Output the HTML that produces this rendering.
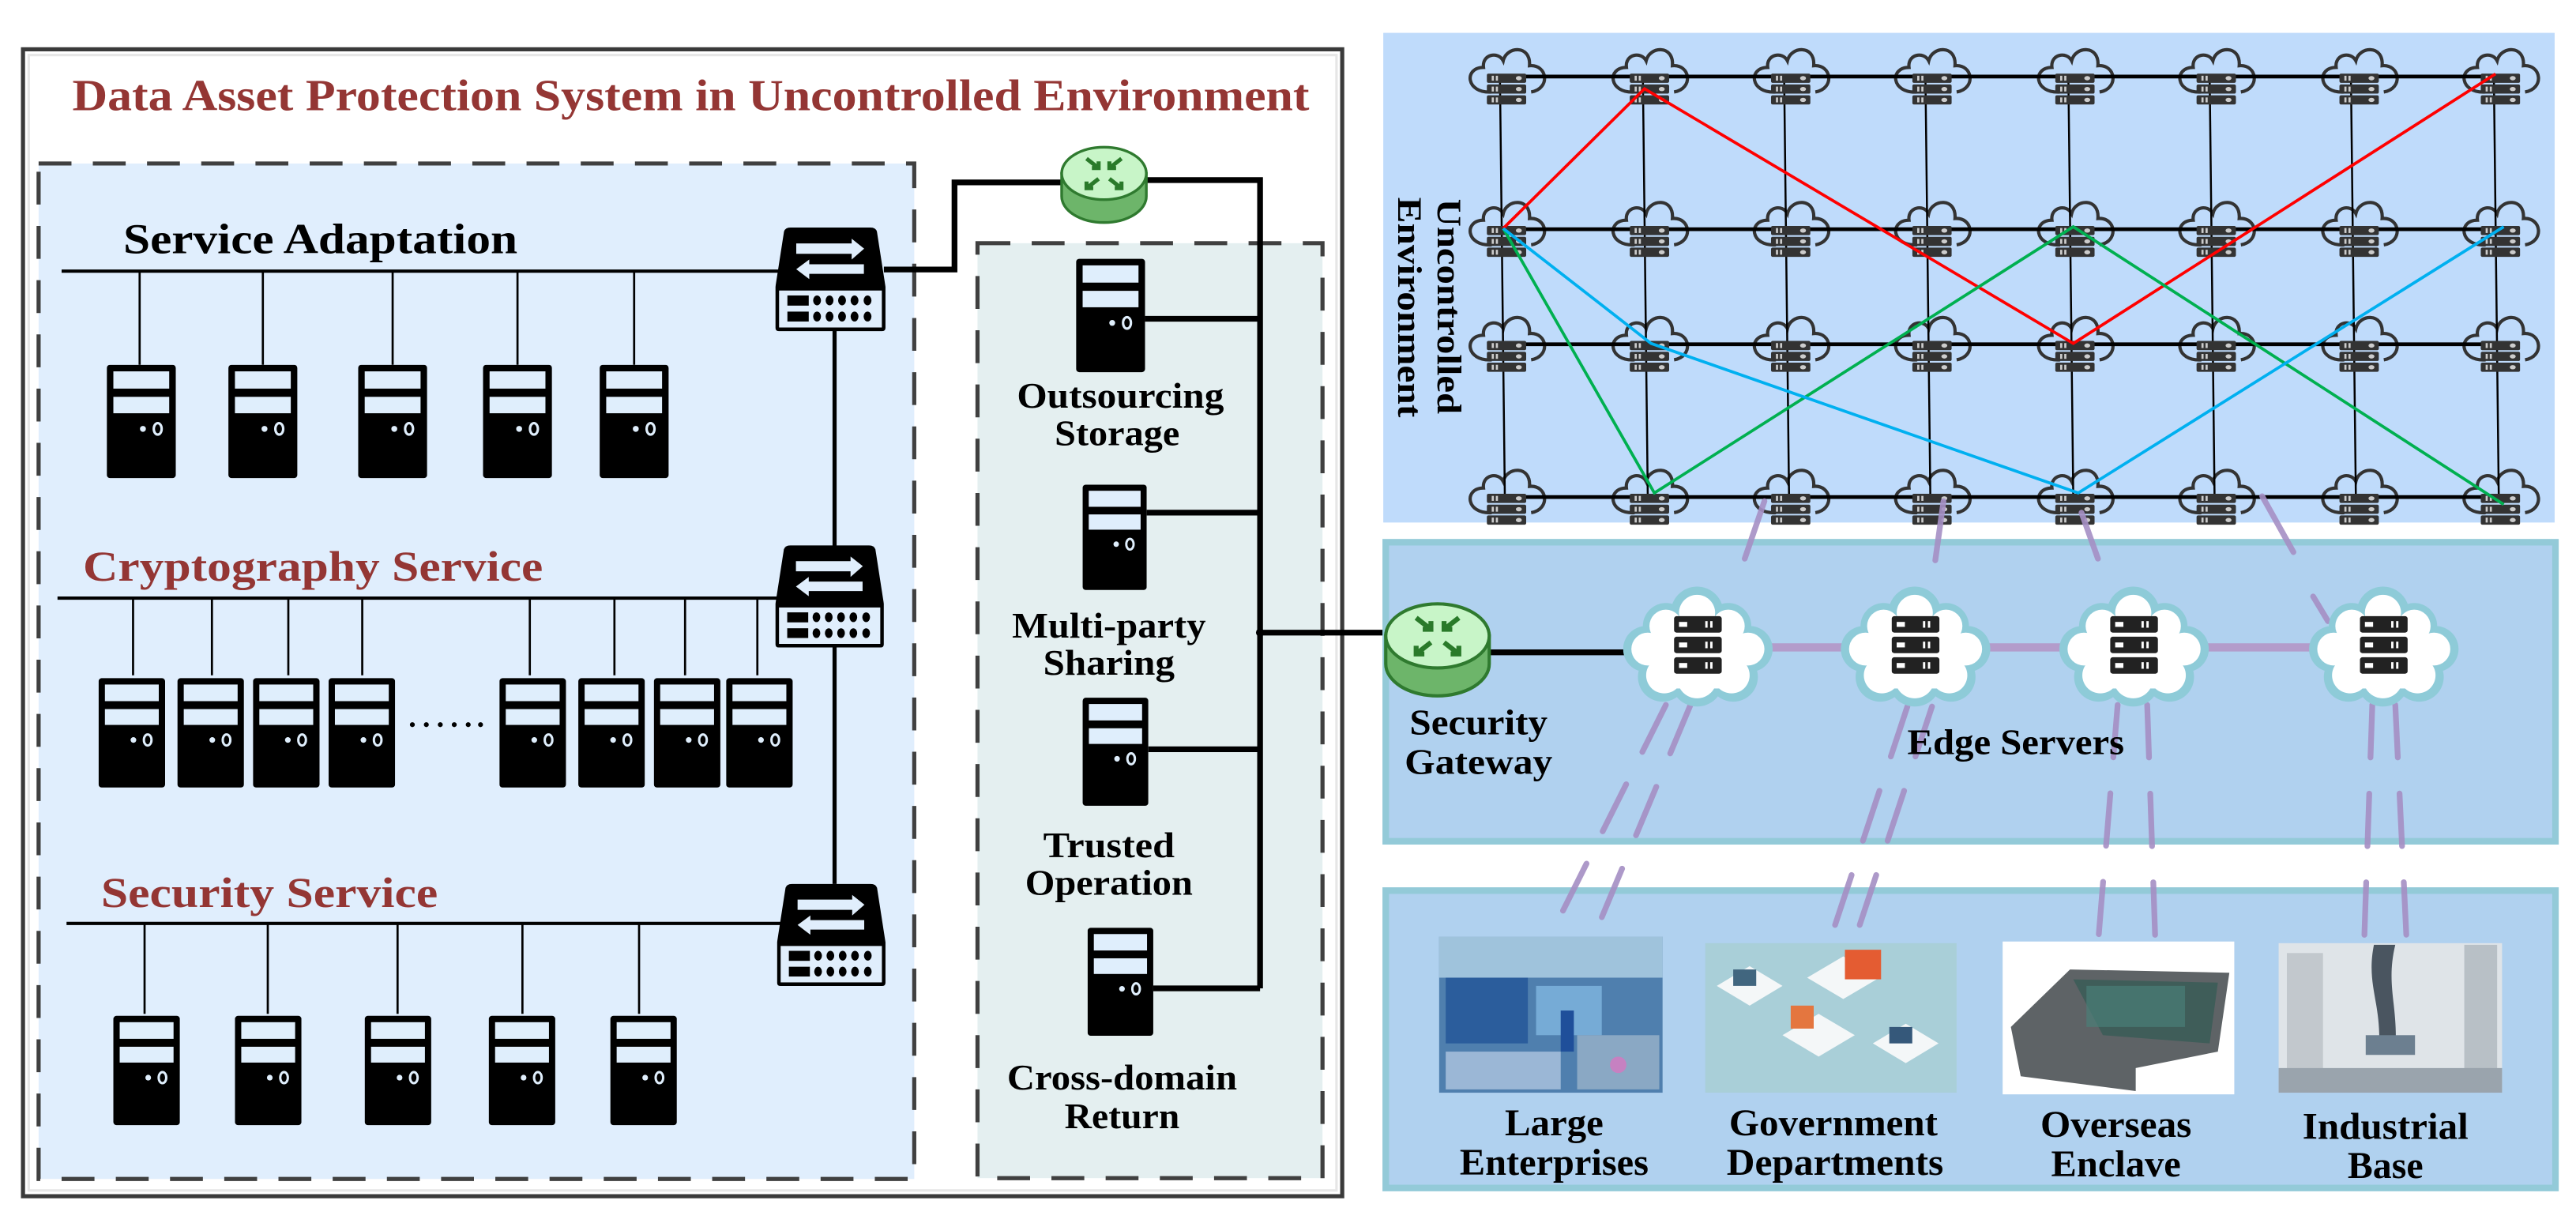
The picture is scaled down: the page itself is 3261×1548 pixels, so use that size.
<!DOCTYPE html>
<html><head><meta charset="utf-8"><style>html,body{margin:0;padding:0;background:#fff}svg{display:block}text{font-family:"Liberation Serif",serif;font-weight:bold}</style></head><body>
<svg width="3261" height="1548" viewBox="0 0 1568 744.3" preserveAspectRatio="none" xmlns="http://www.w3.org/2000/svg">
<defs>
<symbol id="srv" viewBox="0 0 42 69"><rect x="0" y="0" width="42" height="69" rx="2" fill="#000"/><rect x="4" y="4" width="34" height="10.5" fill="#dfeefc"/><rect x="4" y="19.5" width="34" height="10" fill="#dfeefc"/><circle cx="22" cy="39" r="1.8" fill="#dfeefc"/><ellipse cx="31" cy="39" rx="2.4" ry="3.5" fill="none" stroke="#dfeefc" stroke-width="1.5"/></symbol>
<symbol id="sw" viewBox="0 0 423 398"><path d="M58,0 H365 Q385,0 390,15 L423,228 V385 Q423,398 410,398 H13 Q0,398 0,385 V228 L33,15 Q38,0 58,0 Z" fill="#000"/><rect x="14" y="242" width="395" height="142" fill="#e0eefc"/><rect x="46" y="261" width="82" height="39" fill="#000"/><rect x="46" y="323" width="82" height="38" fill="#000"/><g fill="#000"><ellipse cx="160" cy="280" rx="15" ry="19"/><ellipse cx="208" cy="280" rx="15" ry="19"/><ellipse cx="256" cy="280" rx="15" ry="19"/><ellipse cx="304" cy="280" rx="15" ry="19"/><ellipse cx="354" cy="280" rx="15" ry="19"/><ellipse cx="160" cy="342" rx="15" ry="19"/><ellipse cx="208" cy="342" rx="15" ry="19"/><ellipse cx="256" cy="342" rx="15" ry="19"/><ellipse cx="304" cy="342" rx="15" ry="19"/><ellipse cx="354" cy="342" rx="15" ry="19"/></g><path d="M80,61 H293 V43 L341,81 L293,123 V101 H80 Z" fill="#e0eefc"/><path d="M340,141 H130 V123 L80,160 L130,198 V178 H340 Z" fill="#e0eefc"/></symbol>
<symbol id="stk" viewBox="0 0 24 19"><g fill="#333"><rect x="0" y="0" width="24" height="5.6" rx="1"/><rect x="0" y="6.6" width="24" height="5.6" rx="1"/><rect x="0" y="13.2" width="24" height="5.6" rx="1"/></g><g fill="#ccc"><rect x="3" y="1.3" width="1.3" height="3"/><rect x="5.5" y="1.3" width="1.3" height="3"/><rect x="3" y="7.9" width="1.3" height="3"/><rect x="5.5" y="7.9" width="1.3" height="3"/><rect x="3" y="14.5" width="1.3" height="3"/><rect x="5.5" y="14.5" width="1.3" height="3"/><ellipse cx="19.5" cy="2.8" rx="1.8" ry="1.3"/><ellipse cx="19.5" cy="9.4" rx="1.8" ry="1.3"/><ellipse cx="19.5" cy="16" rx="1.8" ry="1.3"/></g></symbol>
<symbol id="gcl" viewBox="-26 -19 52 30"><g fill="none" stroke="#333" stroke-width="2"><path d="M-10,9 C-26,10 -27,-6 -15,-6 C-16,-14 -6,-16 -3,-10 C-1,-19 14,-20 13,-7 C24,-8 26,7 14,9"/></g></symbol>
<symbol id="ecl" viewBox="0 0 91 73"><g fill="#8ecbd8"><circle cx="45" cy="16" r="16"/><circle cx="26" cy="24" r="14"/><circle cx="64" cy="24" r="14"/><circle cx="14" cy="38" r="14"/><circle cx="77" cy="38" r="14"/><circle cx="24" cy="55" r="15"/><circle cx="67" cy="55" r="15"/><circle cx="45" cy="57" r="16"/><rect x="18" y="18" width="55" height="45"/></g><g fill="#fff"><circle cx="45" cy="16" r="11"/><circle cx="26" cy="24" r="10"/><circle cx="64" cy="24" r="10"/><circle cx="15" cy="38" r="10"/><circle cx="76" cy="38" r="10"/><circle cx="25" cy="54" r="11"/><circle cx="66" cy="54" r="11"/><circle cx="45" cy="56" r="12"/><rect x="20" y="20" width="51" height="42"/></g><g fill="#222"><rect x="31" y="18" width="29" height="10" rx="1.5"/><rect x="31" y="30.5" width="29" height="10" rx="1.5"/><rect x="31" y="43" width="29" height="10" rx="1.5"/></g><g fill="#fff"><rect x="34" y="21.5" width="5" height="3"/><rect x="34" y="34" width="5" height="3"/><rect x="34" y="46.5" width="5" height="3"/><rect x="50" y="21" width="1.4" height="4"/><rect x="53" y="21" width="1.4" height="4"/><rect x="50" y="33.5" width="1.4" height="4"/><rect x="53" y="33.5" width="1.4" height="4"/><rect x="50" y="46" width="1.4" height="4"/><rect x="53" y="46" width="1.4" height="4"/></g></symbol>
<symbol id="rtr" viewBox="0 0 66 59"><path d="M1.5,21 V38 A31.5,19.5 0 0 0 64.5,38 V21 Z" fill="#6db56a" stroke="#2f7a2f" stroke-width="2"/><ellipse cx="33" cy="21" rx="31.5" ry="19.5" fill="#c8f5c8" stroke="#2f7a2f" stroke-width="2"/><g stroke="#2a7a2a" stroke-width="3" fill="none"><path d="M20,10 L29,17 M24,17 H29 V12"/><path d="M46,10 L37,17 M37,12 V17 H42"/><path d="M29,25 L20,32 M20,27 V32 H25"/><path d="M37,25 L46,32 M41,32 H46 V27"/></g></symbol>
</defs>

<!-- outer box -->
<rect x="14" y="30" width="803" height="698" fill="#fff" stroke="#3a3a3a" stroke-width="2.5"/>
<rect x="17.5" y="33.5" width="796" height="691" fill="none" stroke="#e6e6e6" stroke-width="1.5"/>
<text x="44" y="67" font-size="27" fill="#943634" textLength="753" lengthAdjust="spacingAndGlyphs">Data Asset Protection System in Uncontrolled Environment</text>

<!-- left dashed box -->
<rect x="23.5" y="99.5" width="533" height="618" fill="#e0eefd" stroke="#404040" stroke-width="2.5" stroke-dasharray="20 13"/>
<!-- right dashed box -->
<rect x="595" y="148" width="210" height="569" fill="#e4eff0" stroke="#404040" stroke-width="2.5" stroke-dasharray="20 13"/>

<!-- service adaptation -->
<text x="75" y="154" font-size="26" fill="#000" textLength="240" lengthAdjust="spacingAndGlyphs">Service Adaptation</text>
<line x1="37.5" y1="165" x2="478" y2="165" stroke="#000" stroke-width="2"/>
<g stroke="#000" stroke-width="1.3">
<line x1="85" y1="165" x2="85" y2="222"/><line x1="160" y1="165" x2="160" y2="222"/><line x1="239" y1="165" x2="239" y2="222"/><line x1="315" y1="165" x2="315" y2="222"/><line x1="386" y1="165" x2="386" y2="222"/>
</g>
<use href="#srv" x="65" y="222" width="42" height="69"/><use href="#srv" x="139" y="222" width="42" height="69"/><use href="#srv" x="218" y="222" width="42" height="69"/><use href="#srv" x="294" y="222" width="42" height="69"/><use href="#srv" x="365" y="222" width="42" height="69"/>

<!-- cryptography -->
<text x="50.5" y="353.5" font-size="26" fill="#943634" textLength="280" lengthAdjust="spacingAndGlyphs">Cryptography Service</text>
<line x1="35" y1="364" x2="478" y2="364" stroke="#000" stroke-width="2"/>
<g stroke="#000" stroke-width="1.3">
<line x1="81" y1="364" x2="81" y2="411"/><line x1="129" y1="364" x2="129" y2="411"/><line x1="175.5" y1="364" x2="175.5" y2="411"/><line x1="220.5" y1="364" x2="220.5" y2="411"/><line x1="322.5" y1="364" x2="322.5" y2="411"/><line x1="374" y1="364" x2="374" y2="411"/><line x1="417" y1="364" x2="417" y2="411"/><line x1="461" y1="364" x2="461" y2="411"/>
</g>
<use href="#srv" x="60" y="411" width="40.5" height="70"/><use href="#srv" x="108" y="411" width="40.5" height="70"/><use href="#srv" x="154" y="411" width="40.5" height="70"/><use href="#srv" x="200" y="411" width="40.5" height="70"/><use href="#srv" x="304" y="411" width="40.5" height="70"/><use href="#srv" x="352" y="411" width="40.5" height="70"/><use href="#srv" x="398" y="411" width="40.5" height="70"/><use href="#srv" x="442" y="411" width="40.5" height="70"/>
<g fill="#000"><circle cx="251" cy="441" r="1.5"/><circle cx="259.5" cy="441" r="1.5"/><circle cx="268" cy="441" r="1.5"/><circle cx="276.5" cy="441" r="1.5"/><circle cx="285" cy="441" r="1.5"/><circle cx="292.5" cy="441" r="1.5"/></g>

<!-- security -->
<text x="61.5" y="552" font-size="26" fill="#943634" textLength="205" lengthAdjust="spacingAndGlyphs">Security Service</text>
<line x1="40.5" y1="562" x2="480" y2="562" stroke="#000" stroke-width="2"/>
<g stroke="#000" stroke-width="1.3">
<line x1="88" y1="562" x2="88" y2="617"/><line x1="163" y1="562" x2="163" y2="617"/><line x1="242" y1="562" x2="242" y2="617"/><line x1="318" y1="562" x2="318" y2="617"/><line x1="389" y1="562" x2="389" y2="617"/>
</g>
<use href="#srv" x="69" y="617" width="40.5" height="69"/><use href="#srv" x="143" y="617" width="40.5" height="69"/><use href="#srv" x="222" y="617" width="40.5" height="69"/><use href="#srv" x="297.5" y="617" width="40.5" height="69"/><use href="#srv" x="371.5" y="617" width="40.5" height="69"/>

<!-- switch vertical -->
<line x1="508" y1="200" x2="508" y2="538" stroke="#000" stroke-width="2.5"/>
<use href="#sw" x="472" y="138" width="67" height="64"/>
<use href="#sw" x="472" y="331" width="66" height="64"/>
<use href="#sw" x="473" y="537" width="66" height="64"/>

<!-- thick connectors -->
<g stroke="#000" stroke-width="3.5" fill="none">
<polyline points="538,164 581,164 581,111 650,111"/>
<polyline points="695,109.6 767,109.6 767,601.5"/>
<line x1="697" y1="194" x2="767" y2="194"/><line x1="698" y1="312" x2="767" y2="312"/><line x1="699" y1="456" x2="767" y2="456"/><line x1="702" y1="601.5" x2="767" y2="601.5"/>
<line x1="767" y1="385" x2="845" y2="385"/>
</g>
<circle cx="767" cy="385" r="2.5" fill="#000"/>
<use href="#rtr" x="645" y="88" width="54" height="49"/>

<use href="#srv" x="655" y="157" width="42" height="70"/>
<use href="#srv" x="659" y="292" width="39" height="70"/>
<use href="#srv" x="659" y="422" width="40" height="71"/>
<use href="#srv" x="662" y="562" width="40" height="71"/>
<g font-size="22" text-anchor="middle" fill="#000">
<text x="682" y="248" textLength="126" lengthAdjust="spacingAndGlyphs">Outsourcing</text>
<text x="680" y="271" textLength="76" lengthAdjust="spacingAndGlyphs">Storage</text>
<text x="675" y="388" textLength="118" lengthAdjust="spacingAndGlyphs">Multi-party</text>
<text x="675" y="410.6" textLength="80" lengthAdjust="spacingAndGlyphs">Sharing</text>
<text x="675" y="521.6" textLength="80" lengthAdjust="spacingAndGlyphs">Trusted</text>
<text x="675" y="544.6" textLength="102" lengthAdjust="spacingAndGlyphs">Operation</text>
<text x="683" y="663" textLength="140" lengthAdjust="spacingAndGlyphs">Cross-domain</text>
<text x="683" y="686.6" textLength="70" lengthAdjust="spacingAndGlyphs">Return</text>
</g>

<!-- top panel -->
<rect x="842" y="20" width="713" height="298" fill="#bfdbfb"/>
<g id="clouds">
<use href="#gcl" x="892" y="28" width="52" height="30"/><use href="#gcl" x="979" y="28" width="52" height="30"/><use href="#gcl" x="1065" y="28" width="52" height="30"/><use href="#gcl" x="1151" y="28" width="52" height="30"/><use href="#gcl" x="1238" y="28" width="52" height="30"/><use href="#gcl" x="1324" y="28" width="52" height="30"/><use href="#gcl" x="1411" y="28" width="52" height="30"/><use href="#gcl" x="1497" y="28" width="52" height="30"/>
<use href="#gcl" x="892" y="121" width="52" height="30"/><use href="#gcl" x="979" y="121" width="52" height="30"/><use href="#gcl" x="1065" y="121" width="52" height="30"/><use href="#gcl" x="1151" y="121" width="52" height="30"/><use href="#gcl" x="1238" y="121" width="52" height="30"/><use href="#gcl" x="1324" y="121" width="52" height="30"/><use href="#gcl" x="1411" y="121" width="52" height="30"/><use href="#gcl" x="1497" y="121" width="52" height="30"/>
<use href="#gcl" x="892" y="191" width="52" height="30"/><use href="#gcl" x="979" y="191" width="52" height="30"/><use href="#gcl" x="1065" y="191" width="52" height="30"/><use href="#gcl" x="1151" y="191" width="52" height="30"/><use href="#gcl" x="1238" y="191" width="52" height="30"/><use href="#gcl" x="1324" y="191" width="52" height="30"/><use href="#gcl" x="1411" y="191" width="52" height="30"/><use href="#gcl" x="1497" y="191" width="52" height="30"/>
<use href="#gcl" x="892" y="284" width="52" height="30"/><use href="#gcl" x="979" y="284" width="52" height="30"/><use href="#gcl" x="1065" y="284" width="52" height="30"/><use href="#gcl" x="1151" y="284" width="52" height="30"/><use href="#gcl" x="1238" y="284" width="52" height="30"/><use href="#gcl" x="1324" y="284" width="52" height="30"/><use href="#gcl" x="1411" y="284" width="52" height="30"/><use href="#gcl" x="1497" y="284" width="52" height="30"/>
</g>
<g stroke="#000" stroke-width="2.3">
<line x1="913" y1="46.6" x2="1526" y2="46.6"/><line x1="913" y1="139.5" x2="1526" y2="139.5"/><line x1="913" y1="209.5" x2="1526" y2="209.5"/><line x1="913" y1="302.5" x2="1526" y2="302.5"/>
</g>
<g stroke="#000" stroke-width="1.2">
<line x1="913" y1="46" x2="916" y2="303"/><line x1="1000" y1="46" x2="1003" y2="303"/><line x1="1086" y1="46" x2="1089" y2="303"/><line x1="1172" y1="46" x2="1175" y2="303"/><line x1="1259" y1="46" x2="1262" y2="303"/><line x1="1345" y1="46" x2="1348" y2="303"/><line x1="1431" y1="46" x2="1434" y2="303"/><line x1="1518" y1="46" x2="1521" y2="303"/>
</g>
<g>
<use href="#stk" x="905" y="44.8" width="24" height="19"/><use href="#stk" x="992" y="44.8" width="24" height="19"/><use href="#stk" x="1078" y="44.8" width="24" height="19"/><use href="#stk" x="1164" y="44.8" width="24" height="19"/><use href="#stk" x="1251" y="44.8" width="24" height="19"/><use href="#stk" x="1337" y="44.8" width="24" height="19"/><use href="#stk" x="1424" y="44.8" width="24" height="19"/><use href="#stk" x="1510" y="44.8" width="24" height="19"/>
<use href="#stk" x="905" y="137.5" width="24" height="19"/><use href="#stk" x="992" y="137.5" width="24" height="19"/><use href="#stk" x="1078" y="137.5" width="24" height="19"/><use href="#stk" x="1164" y="137.5" width="24" height="19"/><use href="#stk" x="1251" y="137.5" width="24" height="19"/><use href="#stk" x="1337" y="137.5" width="24" height="19"/><use href="#stk" x="1424" y="137.5" width="24" height="19"/><use href="#stk" x="1510" y="137.5" width="24" height="19"/>
<use href="#stk" x="905" y="207.5" width="24" height="19"/><use href="#stk" x="992" y="207.5" width="24" height="19"/><use href="#stk" x="1078" y="207.5" width="24" height="19"/><use href="#stk" x="1164" y="207.5" width="24" height="19"/><use href="#stk" x="1251" y="207.5" width="24" height="19"/><use href="#stk" x="1337" y="207.5" width="24" height="19"/><use href="#stk" x="1424" y="207.5" width="24" height="19"/><use href="#stk" x="1510" y="207.5" width="24" height="19"/>
<use href="#stk" x="905" y="300.5" width="24" height="19"/><use href="#stk" x="992" y="300.5" width="24" height="19"/><use href="#stk" x="1078" y="300.5" width="24" height="19"/><use href="#stk" x="1164" y="300.5" width="24" height="19"/><use href="#stk" x="1251" y="300.5" width="24" height="19"/><use href="#stk" x="1337" y="300.5" width="24" height="19"/><use href="#stk" x="1424" y="300.5" width="24" height="19"/><use href="#stk" x="1510" y="300.5" width="24" height="19"/>
</g>
<g fill="none" stroke-width="1.8">
<polyline points="915,139 1001,54 1262,209 1519,45" stroke="#ff0000"/>
<polyline points="915,139 1007,300 1262,138 1524,307" stroke="#00b050"/>
<polyline points="915,139 1005,209 1265,300 1524,138" stroke="#00b0f0"/>
</g>
<text transform="translate(875,121) rotate(90)" font-size="21" fill="#000" textLength="131" lengthAdjust="spacingAndGlyphs">Uncontrolled</text>
<text transform="translate(851,120) rotate(90)" font-size="21" fill="#000" textLength="134" lengthAdjust="spacingAndGlyphs">Environment</text>

<!-- middle & bottom panels -->
<rect x="843.5" y="330" width="712" height="182" fill="#b0d1ef" stroke="#93cad8" stroke-width="4"/>
<rect x="843.5" y="542" width="712" height="181" fill="#b0d1ef" stroke="#93cad8" stroke-width="4"/>

<!-- purple links -->
<g stroke="#a58fc4" stroke-width="3.5" stroke-linecap="round" fill="none" opacity="0.9">
<line x1="1074" y1="305" x2="1062" y2="340"/><line x1="1183" y1="305" x2="1178" y2="341"/><line x1="1267" y1="312" x2="1277" y2="340"/><line x1="1377" y1="302" x2="1396" y2="336"/><line x1="1408" y1="363" x2="1417" y2="378"/>
<g stroke-dasharray="32 22">
<line x1="1014" y1="429" x2="941" y2="575"/><line x1="1029" y1="429" x2="968" y2="575"/>
<line x1="1161" y1="430" x2="1113" y2="575"/><line x1="1176" y1="430" x2="1128" y2="575"/>
<line x1="1289" y1="429" x2="1277" y2="575"/><line x1="1307" y1="429" x2="1312" y2="575"/>
<line x1="1444" y1="429" x2="1439" y2="575"/><line x1="1458" y1="429" x2="1465" y2="575"/>
</g>
</g>
<g stroke="#b39ccb" stroke-width="5"><line x1="1075" y1="394" x2="1124" y2="394"/><line x1="1208" y1="394" x2="1256" y2="394"/><line x1="1342" y1="394" x2="1408" y2="394"/></g>
<line x1="905" y1="397" x2="992" y2="397" stroke="#000" stroke-width="3.5"/>
<use href="#ecl" x="988" y="357" width="91" height="73"/>
<use href="#ecl" x="1120" y="357" width="92" height="73"/>
<use href="#ecl" x="1252" y="357" width="94" height="73"/>
<use href="#ecl" x="1404" y="357" width="94" height="73"/>
<use href="#rtr" x="842" y="366" width="66" height="59"/>
<g font-size="22" text-anchor="middle" fill="#000">
<text x="900" y="447" textLength="84" lengthAdjust="spacingAndGlyphs">Security</text>
<text x="900" y="471" textLength="90" lengthAdjust="spacingAndGlyphs">Gateway</text>
<text x="1227" y="459" textLength="132" lengthAdjust="spacingAndGlyphs">Edge Servers</text>
</g>

<!-- images -->
<g>
<rect x="876" y="570" width="136" height="95" fill="#4f7fae"/>
<rect x="876" y="570" width="136" height="25" fill="#9fc3dc"/>
<rect x="880" y="595" width="50" height="40" fill="#2b5d9c"/>
<rect x="935" y="600" width="40" height="30" fill="#7fb6e0" opacity="0.8"/>
<rect x="960" y="630" width="50" height="33" fill="#8aa8c4"/>
<rect x="880" y="640" width="70" height="23" fill="#9bb7d6"/>
<rect x="950" y="615" width="8" height="25" fill="#1f4f9a"/>
<circle cx="985" cy="648" r="5" fill="#e070c0" opacity="0.7"/>
</g>
<g>
<rect x="1038" y="574" width="153" height="91" fill="#a9cfd8"/>
<path d="M1045,600 l20,-12 l20,12 l-20,12 z M1100,595 l22,-13 l22,13 l-22,13 z M1085,630 l22,-13 l22,13 l-22,13 z M1140,635 l20,-12 l20,12 l-20,12 z" fill="#f4f7f8"/>
<rect x="1123" y="578" width="22" height="18" fill="#e45c32"/>
<rect x="1090" y="612" width="14" height="14" fill="#e4763f"/>
<rect x="1055" y="590" width="14" height="10" fill="#41667f"/>
<rect x="1150" y="625" width="14" height="10" fill="#35587a"/>
</g>
<g>
<rect x="1219" y="573" width="141" height="93" fill="#ffffff"/>
<path d="M1224,625 L1260,590 L1357,592 L1350,640 L1300,650 L1300,664 L1230,655 Z" fill="#5e6366"/>
<path d="M1262,596 L1350,598 L1345,635 L1280,630 Z" fill="#3f5d59"/>
<rect x="1270" y="600" width="60" height="25" fill="#4a7f78" opacity="0.7"/>
</g>
<g>
<rect x="1387" y="574" width="136" height="91" fill="#dfe4e8"/>
<rect x="1392" y="580" width="22" height="80" fill="#c2c8cd"/>
<rect x="1500" y="575" width="20" height="85" fill="#b8c0c6"/>
<path d="M1445,575 C1440,600 1450,610 1448,640 L1458,640 C1460,612 1452,600 1458,575 Z" fill="#4a5560"/>
<rect x="1440" y="630" width="30" height="12" fill="#6c7f90"/>
<rect x="1387" y="650" width="136" height="15" fill="#9aa4ad"/>
</g>
<g font-size="23" text-anchor="middle" fill="#000">
<text x="946" y="691" textLength="60" lengthAdjust="spacingAndGlyphs">Large</text>
<text x="946" y="715" textLength="115" lengthAdjust="spacingAndGlyphs">Enterprises</text>
<text x="1116" y="691" textLength="127" lengthAdjust="spacingAndGlyphs">Government</text>
<text x="1117" y="715" textLength="132" lengthAdjust="spacingAndGlyphs">Departments</text>
<text x="1288" y="692" textLength="92" lengthAdjust="spacingAndGlyphs">Overseas</text>
<text x="1288" y="716" textLength="79" lengthAdjust="spacingAndGlyphs">Enclave</text>
<text x="1452" y="693" textLength="101" lengthAdjust="spacingAndGlyphs">Industrial</text>
<text x="1452" y="717" textLength="46" lengthAdjust="spacingAndGlyphs">Base</text>
</g>
</svg>
</body></html>
